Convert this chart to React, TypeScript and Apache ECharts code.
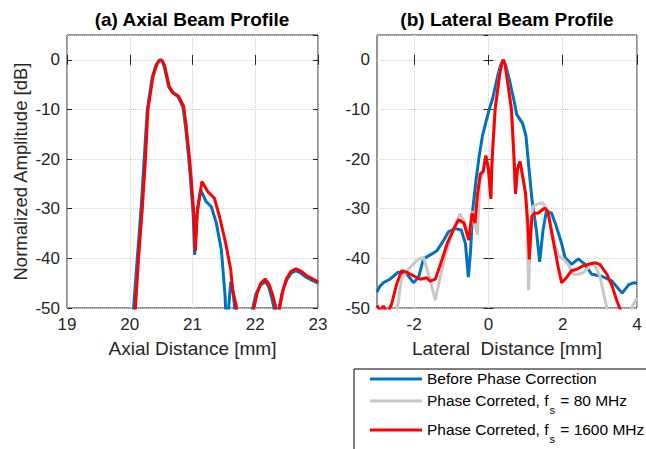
import React, { useEffect, useRef } from "react";
import * as echarts from "echarts";

const FONT = "'Liberation Sans', Arial, Helvetica, sans-serif";

const seriesNames = [
  "Before Phase Correction",
  "Phase Correted, fs = 80 MHz",
  "Phase Correted, fs = 1600 MHz",
];
const seriesColors = ["#0072BD", "#C8C8C8", "#FF0000"];

const axialXTicks = [19, 20, 21, 22, 23];
const lateralXTicks = [-2, 0, 2, 4];

// Axial profile: [distance mm, dB]
const axialBefore = [
  [20.03, -70], [20.06, -50], [20.12, -40], [20.18, -30], [20.23, -20], [20.28, -10],
  [20.36, -3.4], [20.42, -1], [20.46, -0.2], [20.49, 0], [20.52, -0.4], [20.55, -1.4],
  [20.62, -5.4], [20.68, -6.6], [20.77, -7.4], [20.85, -9.6], [20.89, -13.6], [20.94, -19.8],
  [20.97, -24.5], [21.01, -31], [21.035, -39.3], [21.07, -31], [21.13, -26.2], [21.22, -28.6],
  [21.3, -29.6], [21.38, -32.9], [21.46, -38.3], [21.52, -47.7], [21.545, -56], [21.575, -50],
  [21.61, -44.7], [21.64, -46], [21.67, -49.7], [21.7, -60], [21.85, -66], [21.96, -50],
  [22.01, -47.2], [22.08, -45.4], [22.16, -44.7], [22.21, -45.6], [22.26, -47.8], [22.3, -50],
  [22.34, -58], [22.38, -50], [22.43, -46.8], [22.5, -44.4], [22.57, -43], [22.65, -42.5],
  [22.72, -42.9], [22.81, -43.8], [22.9, -44.4], [23.0, -45],
];
const axialCorrected1600 = [
  [20.06, -70], [20.09, -50], [20.14, -40], [20.2, -30], [20.25, -20], [20.29, -10],
  [20.37, -3.4], [20.43, -1], [20.47, -0.2], [20.5, 0], [20.53, -0.4], [20.56, -1.4],
  [20.63, -5.4], [20.69, -6.6], [20.78, -7.4], [20.86, -9.4], [20.9, -13.4], [20.95, -19.5],
  [20.98, -24], [21.02, -30.8], [21.045, -38.5], [21.08, -30.2], [21.15, -24.5], [21.24, -26.5],
  [21.35, -27.9], [21.43, -31.6], [21.53, -37], [21.61, -42.3], [21.64, -46.4], [21.7, -49.7],
  [21.73, -60], [21.86, -66], [21.98, -50], [22.03, -47], [22.09, -45], [22.16, -44.2],
  [22.22, -45.2], [22.28, -47.5], [22.33, -50], [22.355, -58], [22.39, -50], [22.44, -46.5],
  [22.5, -44], [22.57, -42.6], [22.65, -42.1], [22.72, -42.5], [22.81, -43.4], [22.9, -44],
  [23.0, -44.7],
];

// Lateral profile: [distance mm, dB]
const lateralBefore = [
  [-3.0, -46.8], [-2.92, -45.6], [-2.83, -44.9], [-2.65, -44.2], [-2.43, -42.8], [-2.2, -43.1],
  [-2.02, -44.9], [-1.88, -43.8], [-1.75, -40.1], [-1.52, -39.1], [-1.38, -38.4], [-1.2, -36.3],
  [-1.07, -34.6], [-0.89, -34], [-0.73, -34.3], [-0.62, -37], [-0.54, -43.8], [-0.48, -38.4],
  [-0.42, -30], [-0.33, -24], [-0.25, -19.5], [-0.16, -15.3], [-0.07, -12.6], [0.02, -10],
  [0.11, -7.9], [0.25, -3.2], [0.33, -1], [0.4, 0], [0.47, -1.2], [0.56, -3.9], [0.7, -8.6],
  [0.76, -11], [0.85, -12], [0.92, -12.8], [1.01, -15.3], [1.08, -21], [1.17, -28],
  [1.29, -34.3], [1.38, -40.7], [1.47, -34.3], [1.56, -30.5], [1.7, -30.9], [1.83, -33.6],
  [1.97, -37], [2.06, -39.8], [2.24, -41.2], [2.42, -40.1], [2.6, -41.2], [2.78, -43.2],
  [3.05, -43.6], [3.33, -44.6], [3.6, -47], [3.78, -45.3], [3.92, -44.9], [4.0, -45],
];
const lateralCorrected80 = [
  [-3.0, -62], [-2.6, -58], [-2.45, -50], [-2.34, -44], [-2.23, -43], [-2.11, -41.8],
  [-1.88, -40.1], [-1.75, -39.8], [-1.6, -43.5], [-1.43, -48.4], [-1.29, -43.5], [-1.11, -38.1],
  [-0.93, -34], [-0.77, -31], [-0.62, -33], [-0.52, -35.5], [-0.41, -30.5], [-0.3, -35.3],
  [-0.22, -24], [-0.14, -22.5], [-0.07, -19.3], [0.0, -22], [0.065, -28], [0.1, -20],
  [0.18, -10], [0.3, -3], [0.36, -0.8], [0.4, 0], [0.45, -1], [0.52, -4.6], [0.62, -10],
  [0.69, -20], [0.73, -27], [0.78, -22], [0.85, -20.5], [0.92, -23.4], [1.0, -27],
  [1.05, -35], [1.08, -46.4], [1.14, -34], [1.2, -29.5], [1.35, -29], [1.47, -28.8],
  [1.6, -30.5], [1.74, -35.5], [1.88, -39.5], [2.01, -40.1], [2.15, -41.2], [2.28, -43.2],
  [2.42, -43.2], [2.55, -42.9], [2.83, -40.9], [3.0, -43.6], [3.18, -49.7], [3.28, -56],
  [3.7, -58], [3.87, -49.7], [4.0, -48],
];
const lateralCorrected1600 = [
  [-3.0, -49.5], [-2.92, -50.6], [-2.83, -49.6], [-2.72, -51], [-2.61, -49.3], [-2.47, -45.2],
  [-2.34, -42.5], [-2.2, -42.8], [-2.02, -43.5], [-1.84, -44.2], [-1.66, -43.9], [-1.57, -44.6],
  [-1.43, -44.2], [-1.29, -41.2], [-1.11, -37], [-0.93, -34], [-0.8, -32.2], [-0.66, -32.9],
  [-0.53, -36.3], [-0.44, -30.9], [-0.36, -32.9], [-0.3, -27.5], [-0.22, -23], [-0.14, -22.5],
  [-0.07, -19.3], [0.0, -22], [0.065, -28], [0.1, -20], [0.18, -10], [0.3, -3], [0.36, -0.8],
  [0.4, 0], [0.45, -1], [0.52, -4.6], [0.62, -10], [0.69, -20], [0.73, -27], [0.78, -22],
  [0.85, -20.5], [0.92, -23.4], [1.0, -27], [1.06, -33], [1.1, -40.2], [1.17, -31.6],
  [1.24, -30.9], [1.33, -30.9], [1.51, -29.9], [1.6, -30.5], [1.74, -36.3], [1.88, -41.8],
  [1.97, -44.9], [2.1, -43.9], [2.24, -42.5], [2.38, -42.2], [2.55, -41.5], [2.74, -41.1],
  [2.89, -40.9], [3.0, -41.2], [3.19, -43.2], [3.33, -45.6], [3.46, -48.6], [3.55, -50.3],
  [3.7, -55], [4.0, -58],
];

const AX = "#262626";
const GRIDC = "#cfcfcf";

function yAxisCfg(gridIndex: number, withName: boolean) {
  return {
    type: "value",
    gridIndex,
    min: -50,
    max: 5,
    interval: 10,
    name: withName ? "Normalized Amplitude [dB]" : "",
    nameLocation: "middle",
    nameGap: 37,
    nameTextStyle: { fontSize: 18.5, color: AX, fontFamily: FONT },
    axisLine: { show: false },
    axisTick: { show: true, inside: true, length: 5, lineStyle: { color: AX } },
    axisLabel: { showMaxLabel: false, fontSize: 17, color: AX, margin: 7, fontFamily: FONT },
    splitLine: { show: true, lineStyle: { color: GRIDC, type: "dotted", width: 1 } },
  };
}
function yAxisMirror(gridIndex: number) {
  return {
    type: "value", gridIndex, position: "right", min: -50, max: 5, interval: 10,
    axisLine: { show: false }, axisLabel: { show: false }, splitLine: { show: false },
    axisTick: { show: true, inside: true, length: 5, lineStyle: { color: AX } },
  };
}

export default function App() {
  const ref = useRef<HTMLDivElement>(null);
  useEffect(() => {
    if (!ref.current) return;
    const chart = echarts.init(ref.current, undefined, { renderer: "svg" });
    const lineSeries = (name: string, color: string, data: number[][], xi: number, yi: number, z: number) => ({
      type: "line",
      name,
      data,
      xAxisIndex: xi,
      yAxisIndex: yi,
      showSymbol: false,
      symbol: "none",
      clip: true,
      z,
      lineStyle: { color, width: 3 },
      itemStyle: { color },
    });
    chart.setOption({
      animation: false,
      backgroundColor: "#ffffff",
      title: [
        { text: "(a) Axial Beam Profile", left: 192, top: 10, padding: 0, textAlign: "center",
          textStyle: { fontSize: 19, fontWeight: "bold", color: "#000", fontFamily: FONT } },
        { text: "(b) Lateral Beam Profile", left: 507, top: 10, padding: 0, textAlign: "center",
          textStyle: { fontSize: 19, fontWeight: "bold", color: "#000", fontFamily: FONT } },
      ],
      grid: [
        { left: 67, top: 35, width: 251, height: 273, show: true, borderColor: AX, borderWidth: 1, backgroundColor: "#fff" },
        { left: 377, top: 35, width: 260, height: 273, show: true, borderColor: AX, borderWidth: 1, backgroundColor: "#fff" },
      ],
      xAxis: [
        {
          type: "value", gridIndex: 0, min: 19, max: 23, interval: 1,
          name: "Axial Distance [mm]", nameLocation: "middle", nameGap: 31,
          nameTextStyle: { fontSize: 19, color: AX, fontFamily: FONT },
          axisLine: { show: false },
          axisTick: { show: true, inside: true, length: 5, lineStyle: { color: AX } },
          axisLabel: { fontSize: 17, color: AX, margin: 8, fontFamily: FONT, customValues: axialXTicks },
          splitLine: { show: true, lineStyle: { color: GRIDC, type: "dotted", width: 1 } },
        },
        {
          type: "value", gridIndex: 1, min: -3, max: 4, interval: 1,
          name: "Lateral  Distance [mm]", nameLocation: "middle", nameGap: 31,
          nameTextStyle: { fontSize: 19, color: AX, fontFamily: FONT },
          axisLine: { show: false },
          axisTick: { show: true, inside: true, length: 5, lineStyle: { color: AX }, customValues: lateralXTicks },
          axisLabel: { fontSize: 17, color: AX, margin: 8, fontFamily: FONT, customValues: lateralXTicks },
          splitLine: { show: true, lineStyle: { color: GRIDC, type: "dotted", width: 1 } },
        },
        {
          type: "value", gridIndex: 0, position: "top", min: 19, max: 23, interval: 1,
          axisLine: { show: false }, axisLabel: { show: false }, splitLine: { show: false },
          axisTick: { show: true, inside: true, length: 5, lineStyle: { color: AX } },
        },
        {
          type: "value", gridIndex: 1, position: "top", min: -3, max: 4, interval: 1,
          axisLine: { show: false }, axisLabel: { show: false }, splitLine: { show: false },
          axisTick: { show: true, inside: true, length: 5, lineStyle: { color: AX }, customValues: lateralXTicks },
        },
      ],
      yAxis: [yAxisCfg(0, true), yAxisCfg(1, false), yAxisMirror(0), yAxisMirror(1)],
      legend: {
        data: seriesNames,
        orient: "vertical",
        left: 354,
        top: 369,
        height: 200,
        icon: "rect",
        itemWidth: 52,
        itemHeight: 3,
        itemGap: 6,
        padding: [1, 40, 20, 16],
        borderColor: "#000",
        borderWidth: 1,
        backgroundColor: "#fff",
        selectedMode: false,
        formatter: (name: string) => {
          if (name === seriesNames[0]) return "{a|Before Phase Correction}";
          if (name === seriesNames[1]) return "{a|Phase Correted, f}{s|s}{a| = 80 MHz}";
          return "{a|Phase Correted, f}{s|s}{a| = 1600 MHz}";
        },
        textStyle: {
          fontFamily: FONT,
          color: "#000",
          rich: {
            a: { fontSize: 15.5, lineHeight: 18, verticalAlign: "top", fontFamily: FONT, color: "#000" },
            s: { fontSize: 11, lineHeight: 12, padding: [12, 1, 0, 1], verticalAlign: "top", fontFamily: FONT, color: "#000" },
          },
        },
      },
      series: [
        lineSeries(seriesNames[0], seriesColors[0], axialBefore, 0, 0, 2),
        lineSeries(seriesNames[2], seriesColors[2], axialCorrected1600, 0, 0, 4),
        lineSeries(seriesNames[0], seriesColors[0], lateralBefore, 1, 1, 2),
        lineSeries(seriesNames[1], seriesColors[1], lateralCorrected80, 1, 1, 3),
        lineSeries(seriesNames[2], seriesColors[2], lateralCorrected1600, 1, 1, 4),
      ],
    });
    return () => chart.dispose();
  }, []);
  return <div ref={ref} style={{ position: "fixed", left: 0, top: 0, width: 646, height: 449 }} />;
}
